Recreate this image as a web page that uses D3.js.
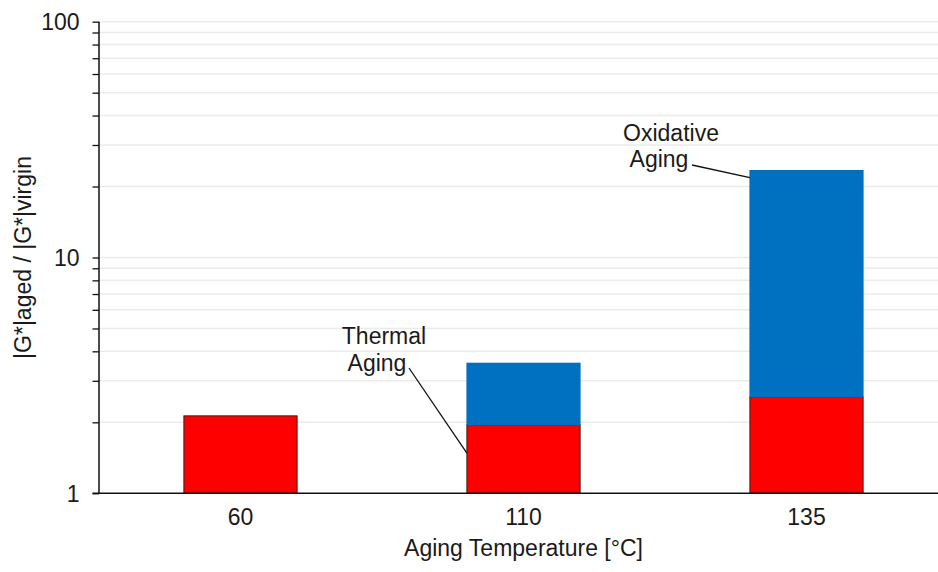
<!DOCTYPE html>
<html>
<head>
<meta charset="utf-8">
<script src="https://cdn.jsdelivr.net/npm/d3@7"></script>
<style>
  html, body { margin: 0; padding: 0; background: #fff; }
  svg text { font-family: "Liberation Sans", Arial, sans-serif; fill: #1a1a1a; }
</style>
</head>
<body>
<svg id="chart" width="938" height="572"></svg>
<script>
// Aging temperatures (°C) on the category axis
const temperatures = ["60", "110", "135"];
// |G*|aged / |G*|virgin after thermal aging only
const thermalRatio = [2.13, 1.95, 2.57];
// |G*|aged / |G*|virgin after thermal + oxidative aging (null = not tested)
const oxidativeRatio = [null, 3.58, 23.5];
// Labelled tick values on the log axis
const yTickLabels = [1, 10, 100];

const svg = d3.select("#chart");
const plot = { left: 99, right: 948, top: 21.7, bottom: 493.3 };

const x = d3.scaleBand()
  .domain(temperatures)
  .range([plot.left, plot.right])
  .paddingInner(0.6)
  .paddingOuter(0.3);

const y = d3.scaleLog()
  .domain([1, 100])
  .range([plot.bottom, plot.top]);

// every 1-2-...-9 tick of each decade
const allTicks = y.ticks();

// horizontal gridlines
svg.append("g")
  .selectAll("line")
  .data(allTicks.filter(d => d > 1))
  .join("line")
  .attr("x1", plot.left)
  .attr("x2", 938)
  .attr("y1", d => y(d))
  .attr("y2", d => y(d))
  .attr("stroke", "#ebebeb")
  .attr("stroke-width", 1.5);

// thermal aging segments
svg.append("g")
  .selectAll("rect")
  .data(temperatures.map((t, i) => ({ t, v: thermalRatio[i] })))
  .join("rect")
  .attr("x", d => x(d.t))
  .attr("width", x.bandwidth())
  .attr("y", d => y(d.v))
  .attr("height", d => y(1) - y(d.v))
  .attr("fill", "#ff0000")
  .attr("stroke", "#3a1a1a")
  .attr("stroke-width", 1);

// oxidative aging segments stacked on top of the thermal part
svg.append("g")
  .selectAll("rect")
  .data(temperatures.map((t, i) => ({ t, lo: thermalRatio[i], hi: oxidativeRatio[i] }))
    .filter(d => d.hi != null))
  .join("rect")
  .attr("x", d => x(d.t) - 0.5)
  .attr("width", x.bandwidth() + 1)
  .attr("y", d => y(d.hi))
  .attr("height", d => y(d.lo) - y(d.hi) + 0.5)
  .attr("fill", "#0070c0");

// y axis with outward ticks at every minor step
const yAxis = d3.axisLeft(y)
  .tickValues(allTicks)
  .tickSize(6.5)
  .tickPadding(13)
  .tickFormat(d => yTickLabels.includes(d) ? d3.format("d")(d) : "");

svg.append("g")
  .attr("transform", `translate(${plot.left},0)`)
  .call(yAxis)
  .call(g => g.select(".domain").attr("stroke", "#111").attr("stroke-width", 1.5).attr("d", `M0,${plot.top}V${plot.bottom}`))
  .call(g => g.selectAll(".tick line").attr("stroke", "#111").attr("stroke-width", 1.3))
  .call(g => g.selectAll(".tick text")
    .style("font-size", "23px")
    .attr("dy", "0.34em")
    .attr("fill", "#1a1a1a"));

// x axis: baseline and category labels, no tick marks
const xAxis = d3.axisBottom(x).tickSize(0).tickPadding(15);
svg.append("g")
  .attr("transform", `translate(0,${plot.bottom})`)
  .call(xAxis)
  .call(g => g.select(".domain").attr("stroke", "#111").attr("stroke-width", 1.5)
    .attr("d", `M${plot.left - 6.5},0H938`))
  .call(g => g.selectAll(".tick text")
    .style("font-size", "23px")
    .attr("fill", "#1a1a1a"));

// axis titles
svg.append("text")
  .attr("x", (plot.left + 938) / 2 + 5)
  .attr("y", 556)
  .attr("text-anchor", "middle")
  .style("font-size", "23px")
  .text("Aging Temperature [°C]");

svg.append("text")
  .attr("transform", `translate(31,${(plot.top + plot.bottom) / 2}) rotate(-90)`)
  .attr("text-anchor", "middle")
  .style("font-size", "23px")
  .text("|G*|aged / |G*|virgin");

// callout labels with leader lines to the bars
const callouts = [
  { lines: ["Thermal", "Aging"], cx: [384, 377], by: [344, 371], from: [409, 368], bar: "110", at: 1.48 },
  { lines: ["Oxidative", "Aging"], cx: [671, 659], by: [141, 167], from: [692, 165], bar: "135", at: 21.8 }
];

callouts.forEach(c => {
  c.lines.forEach((s, i) => {
    svg.append("text")
      .attr("x", c.cx[i])
      .attr("y", c.by[i])
      .attr("text-anchor", "middle")
      .style("font-size", "23px")
      .text(s);
  });
  svg.append("line")
    .attr("x1", c.from[0])
    .attr("y1", c.from[1])
    .attr("x2", x(c.bar))
    .attr("y2", y(c.at))
    .attr("stroke", "#111")
    .attr("stroke-width", 1.3);
});
</script>
</body>
</html>
